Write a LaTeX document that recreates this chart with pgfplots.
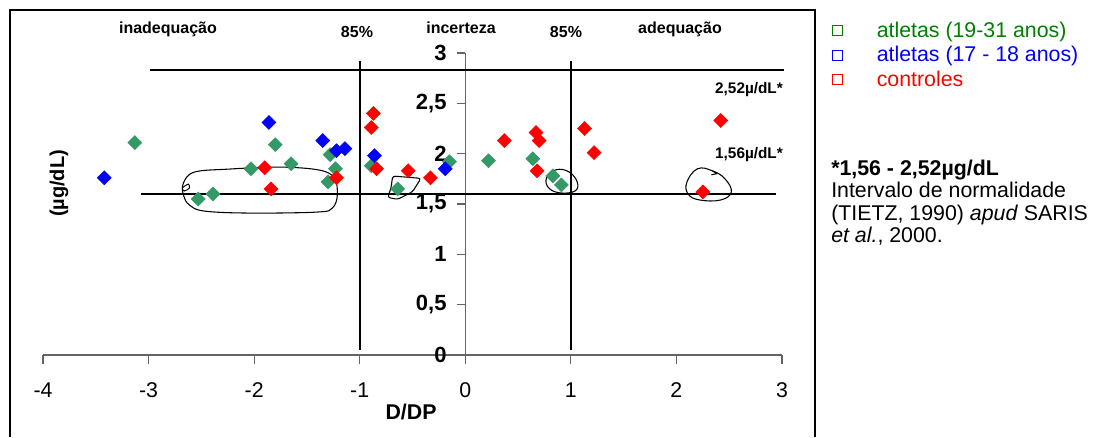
\documentclass[border=0pt]{standalone}
\usepackage{pgfplots}
\pgfplotsset{compat=1.18}
\usepackage{fontspec}
\setmainfont{Liberation Sans}

\definecolor{seagreen}{RGB}{51,153,102}
\definecolor{lgreen}{RGB}{0,128,0}
\definecolor{axisgray}{RGB}{100,100,100}

% pixel-like grid for the frame and free text (origin = lower left of the axis box)
\tikzset{px/.style={x=0.75pt,y=-0.75pt,shift={(-32.25pt,266.25pt)}}}

% open square used as legend key
\pgfplotsset{legsq/.style={legend image code/.code={%
  \draw[draw=#1,line width=0.7pt,fill=none] (0pt,-2pt) rectangle (7.5pt,5.5pt);
  \path[draw=none,fill=none] (0pt,0pt) -- (33pt,0pt);}}}

\begin{document}
\begin{tikzpicture}
\useasboundingbox (-32.25pt,-61.5pt) rectangle (795.75pt,266.25pt);

\begin{axis}[
  scale only axis,
  width=554.25pt, height=226.5pt,
  xmin=-4, xmax=3, ymin=0, ymax=3,
  axis x line=bottom, axis y line=middle,
  axis line style={-, draw=axisgray, line width=0.9pt},
  hide obscured x ticks=false, hide obscured y ticks=false,
  xtick={-4,-3,-2,-1,0,1,2,3},
  xticklabels={-4,-3,-2,-1,0,1,2,3},
  ytick={0,0.5,1,1.5,2,2.5,3},
  yticklabels={0,{0,5},1,{1,5},2,{2,5},3},
  tick align=outside,
  major tick length=6.5pt,
  tick style={draw=axisgray, line width=0.8pt},
  xticklabel style={font=\fontsize{16}{19}\selectfont, yshift=-11pt},
  yticklabel style={font=\bfseries\fontsize{16.5}{19}\selectfont, xshift=-4pt},
  xlabel={D/DP},
  xlabel style={font=\bfseries\fontsize{16}{19}\selectfont,
    at={(axis description cs:0.498,-0.215)}, anchor=base},
  ylabel={(µg/dL)},
  ylabel style={font=\bfseries\fontsize{15}{18}\selectfont,
    at={(axis description cs:0.0217,0.568)}, anchor=center, rotate=90},
  legend style={draw=none, fill=none, inner sep=0pt, row sep=0pt,
    at={(axis description cs:1.0677,1.1076)}, anchor=north west,
    font=\fontsize{16}{19}\selectfont,
    nodes={inner sep=0pt, text height=12.4pt, text depth=6pt}},
  legend cell align=left,
  clip=false,
]

% reference lines: 85% thresholds and normality band
\draw[black, line width=1.2pt] (axis cs:-1,0.05) -- (axis cs:-1,2.92);
\draw[black, line width=1.2pt] (axis cs:1,0.05) -- (axis cs:1,2.92);
\draw[black, line width=1.2pt] (axis cs:-2.99,2.833) -- (axis cs:3.02,2.833);
\draw[black, line width=1.2pt] (axis cs:-3.07,1.599) -- (axis cs:2.94,1.599);

% athletes 19-31 years
\addplot[only marks, mark=square*, mark size=3.7pt, color=seagreen,
  mark options={rotate=45, draw=seagreen, fill=seagreen}, legsq=lgreen]
  coordinates {
  (-3.13,2.11) (-1.80,2.09) (-2.03,1.85) (-2.53,1.55) (-2.39,1.60)
  (-1.65,1.90) (-1.28,1.99) (-1.23,1.85) (-1.30,1.72) (-0.89,1.88)
  (-0.64,1.65) (-0.15,1.92) (0.22,1.93) (0.64,1.95) (0.83,1.78) (0.91,1.69)
  };
\addlegendentry{\textcolor{lgreen}{atletas (19-31 anos)}}

% athletes 17-18 years
\addplot[only marks, mark=square*, mark size=3.7pt, color=blue,
  mark options={rotate=45, draw=blue, fill=blue}, legsq=blue]
  coordinates {
  (-3.42,1.76) (-1.86,2.31) (-1.35,2.13) (-1.22,2.03) (-1.14,2.05)
  (-0.86,1.98) (-0.19,1.85)
  };
\addlegendentry{\textcolor{blue}{atletas (17 - 18 anos)}}

% controls
\addplot[only marks, mark=square*, mark size=3.7pt, color=red,
  mark options={rotate=45, draw=red, fill=red}, legsq=red]
  coordinates {
  (-1.90,1.86) (-1.84,1.65) (-1.22,1.76) (-0.87,2.40) (-0.89,2.26)
  (-0.84,1.85) (-0.54,1.83) (-0.33,1.76) (0.37,2.13) (0.67,2.21)
  (0.70,2.13) (0.68,1.83) (1.13,2.25) (1.22,2.01) (2.42,2.33) (2.25,1.62)
  };
\addlegendentry{\textcolor{red}{controles}}

% hand-drawn loops around the points near the lower limit
\draw[black, line width=0.8pt] plot[smooth cycle, tension=0.6] coordinates {
  (axis cs:-2.566,1.817) (axis cs:-2.235,1.847) (axis cs:-1.761,1.867)
  (axis cs:-1.383,1.837) (axis cs:-1.241,1.758) (axis cs:-1.212,1.589)
  (axis cs:-1.259,1.460) (axis cs:-1.402,1.420) (axis cs:-2.045,1.410)
  (axis cs:-2.472,1.430) (axis cs:-2.614,1.490) (axis cs:-2.670,1.589)
  (axis cs:-2.670,1.708)};
\draw[black, line width=0.7pt] plot[smooth cycle] coordinates {
  (axis cs:-2.680,1.658) (axis cs:-2.623,1.698) (axis cs:-2.614,1.658)
  (axis cs:-2.661,1.629)};
\draw[black, line width=0.8pt, rounded corners=2pt]
  (axis cs:-0.688,1.778) -- (axis cs:-0.420,1.755) -- (axis cs:-0.499,1.622)
  -- (axis cs:-0.641,1.546) -- (axis cs:-0.736,1.566) -- (axis cs:-0.704,1.655)
  -- cycle;
\draw[black, line width=0.8pt] plot[smooth cycle, tension=0.7] coordinates {
  (axis cs:0.77,1.76) (axis cs:0.86,1.84) (axis cs:0.98,1.82)
  (axis cs:1.06,1.72) (axis cs:1.04,1.63) (axis cs:0.90,1.61) (axis cs:0.79,1.66)};
\draw[black, line width=0.8pt] plot[smooth cycle, tension=0.7] coordinates {
  (axis cs:2.10,1.72) (axis cs:2.20,1.85) (axis cs:2.34,1.83)
  (axis cs:2.46,1.75) (axis cs:2.52,1.62) (axis cs:2.42,1.54)
  (axis cs:2.22,1.54) (axis cs:2.11,1.60)};
\draw[black, line width=0.7pt] (axis cs:2.34,1.83) -- (axis cs:2.38,1.80) -- (axis cs:2.33,1.79);
\end{axis}

\begin{scope}[px]
  % frame
  \draw[black, line width=0.8pt] (10,437) -- (10,10) -- (815,10) -- (815,437);
  % zone labels
  \begin{scope}[every node/.style={font=\bfseries\fontsize{12}{14}\selectfont, inner sep=0pt}]
    \node[anchor=base] at (168,33) {inadequação};
    \node[anchor=base] at (357,37) {85\%};
    \node[anchor=base] at (461,33) {incerteza};
    \node[anchor=base] at (566,37) {85\%};
    \node[anchor=base] at (680,33) {adequação};
    \node[anchor=base, font=\bfseries\fontsize{11.5}{14}\selectfont] at (749,93) {2,52µ/dL*};
    \node[anchor=base, font=\bfseries\fontsize{11.5}{14}\selectfont] at (749,158) {1,56µ/dL*};
  \end{scope}
  % note on the reference interval
  \begin{scope}[every node/.style={font=\fontsize{16}{19}\selectfont, inner sep=0pt, anchor=base west}]
    \node at (831,175) {\bfseries *1,56 - 2,52µg/dL};
    \node at (831,197.5) {Intervalo de normalidade};
    \node at (831,220) {(TIETZ, 1990) \textit{apud} SARIS};
    \node at (831,242.5) {\textit{et al.}, 2000.};
  \end{scope}
\end{scope}
\end{tikzpicture}
\end{document}
